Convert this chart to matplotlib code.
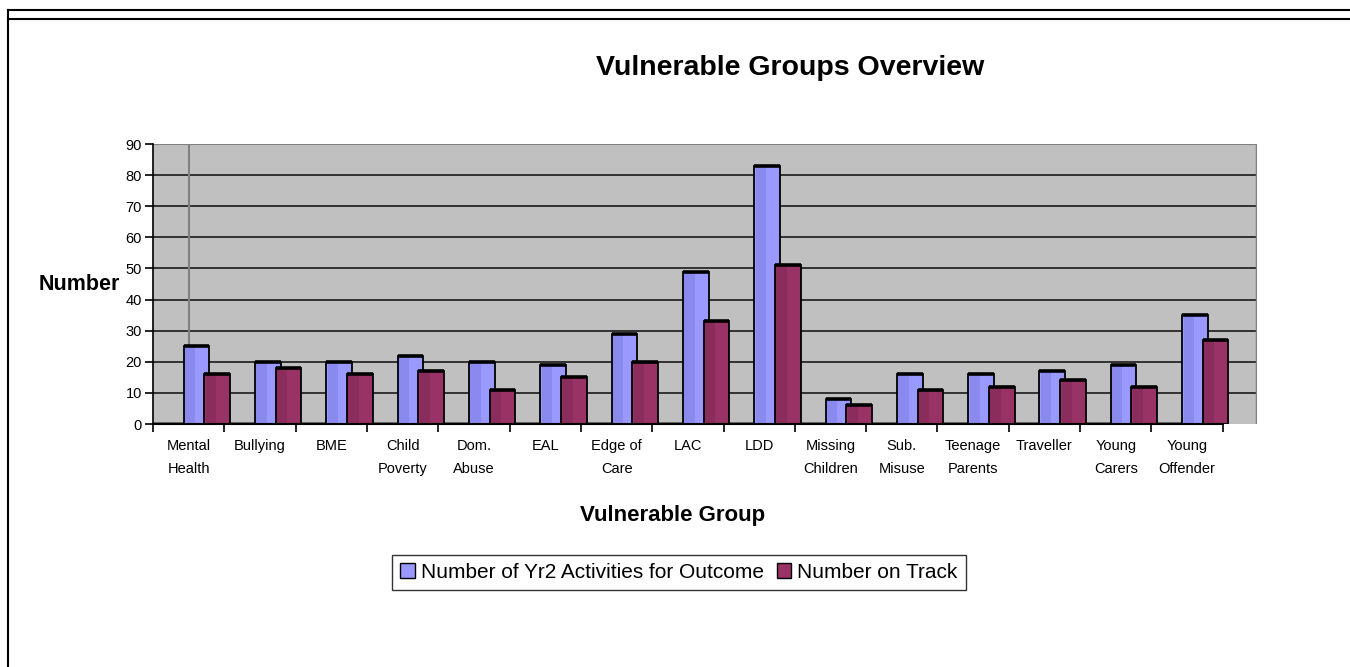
import matplotlib
matplotlib.use("Agg")
import matplotlib.pyplot as plt
from matplotlib.lines import Line2D
from matplotlib.patches import Patch, Rectangle

plt.rcParams['font.family'] = ['Liberation Sans', 'DejaVu Sans']

categories = ["Mental\nHealth", "Bullying", "BME", "Child\nPoverty", "Dom.\nAbuse",
              "EAL", "Edge of\nCare", "LAC", "LDD", "Missing\nChildren", "Sub.\nMisuse",
              "Teenage\nParents", "Traveller", "Young\nCarers", "Young\nOffender"]
activities = [25, 20, 20, 22, 20, 19, 29, 49, 83, 8, 16, 16, 17, 19, 35]
on_track = [16, 18, 16, 17, 11, 15, 20, 33, 51, 6, 11, 12, 14, 12, 27]
yticks = [0, 10, 20, 30, 40, 50, 60, 70, 80, 90]
series_names = ["Number of Yr2 Activities for Outcome", "Number on Track"]

W, H = 1350, 667
fig = plt.figure(figsize=(W / 100, H / 100), dpi=100)
fig.patch.set_facecolor("white")

# outer frame lines
lw_frame = 1.5
fig.add_artist(Line2D([8 / W, 1], [1 - 10 / H, 1 - 10 / H], color="black", lw=lw_frame))
fig.add_artist(Line2D([8 / W, 1], [1 - 19 / H, 1 - 19 / H], color="black", lw=lw_frame))
fig.add_artist(Line2D([8 / W, 8 / W], [0, 1 - 10 / H], color="black", lw=lw_frame))

left, right, top, bottom = 153, 1257, 144, 424
ax = fig.add_axes([left / W, 1 - bottom / H, (right - left) / W, (bottom - top) / H])
n = len(categories)
xmax = n + 0.48
ax.set_xlim(0, xmax)
ax.set_ylim(0, 90)
ax.set_facecolor("#C0C0C0")

# gridlines
for y in yticks[1:-1]:
    ax.axhline(y, color="#1a1a1a", lw=1.2, zorder=1)
ax.axhline(90, color="#808080", lw=1.5, zorder=1)
ax.axvline(0.5, color="#808080", lw=1.5, zorder=1)
ax.axvline(xmax, color="#808080", lw=2.5, zorder=1)
ax.plot([0, n], [0.35, 0.35], color="#606060", lw=2, zorder=1)

blue, blue_d = "#9999FF", "#8A8AEE"
red, red_d = "#993366", "#8A2D5C"
bw = 0.36
for i in range(n):
    for off, val, c, cd, z in [(0.61, activities[i], blue, blue_d, 3), (0.90, on_track[i], red, red_d, 4)]:
        x0 = i + off - bw / 2
        ax.add_patch(Rectangle((x0, 0), bw, val, facecolor=c, edgecolor="black", lw=1.3, zorder=z))
        ax.add_patch(Rectangle((x0 + 0.02, 0.3), bw * 0.4, val - 0.6, facecolor=cd, edgecolor="none", zorder=z + 0.1))
        ax.plot([x0, x0 + bw], [val, val], color="black", lw=2.6, zorder=z + 0.2, solid_capstyle="butt")

# axes
for s in ["top", "right", "bottom"]:
    ax.spines[s].set_visible(False)
ax.spines["left"].set_color("black")
ax.spines["left"].set_linewidth(1.2)
ax.plot([0, n], [0, 0], color="black", lw=1.5, clip_on=False, zorder=6)

ax.set_yticks(yticks)
ax.set_yticklabels([str(v) for v in yticks], fontsize=10.5)
ax.tick_params(axis="y", length=6, width=1.2, pad=2, colors="black")

ax.set_xticks(range(n + 1))
ax.set_xticklabels([])
ax.tick_params(axis="x", which="major", length=6, width=1.2, colors="black")
ax.set_xticks([i + 0.5 for i in range(n)], minor=True)
ax.set_xticklabels(categories, minor=True, fontsize=10.5, linespacing=1.75)
ax.tick_params(axis="x", which="minor", length=0, pad=11)

fig.text(790 / W, 1 - 68 / H, "Vulnerable Groups Overview", fontsize=20.5, fontweight="bold", ha="center", va="center")
fig.text(39 / W, 1 - 285 / H, "Number", fontsize=15.5, fontweight="bold", ha="left", va="center")
fig.text(673 / W, 1 - 515 / H, "Vulnerable Group", fontsize=16, fontweight="bold", ha="center", va="center")

handles = [Patch(facecolor=blue, edgecolor="black", lw=1), Patch(facecolor=red, edgecolor="black", lw=1)]
leg = fig.legend(handles, series_names, loc="center", bbox_to_anchor=(679 / W, 1 - 572.5 / H),
                 fontsize=15, frameon=True, fancybox=False, edgecolor="black", ncol=2,
                 handlelength=0.7, handleheight=0.7, handletextpad=0.3, columnspacing=0.6,
                 borderpad=0.4, borderaxespad=0)
leg.get_frame().set_linewidth(1.0)

fig.savefig("out.png", dpi=100)
